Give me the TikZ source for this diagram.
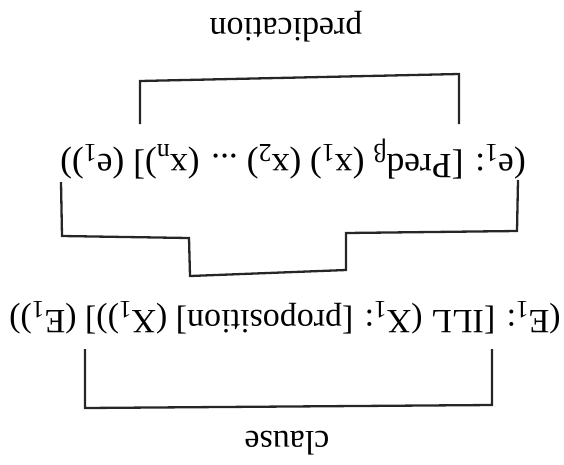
\documentclass[tikz,border=0pt]{standalone}
\usepackage{fontspec}
\setmainfont{Liberation Serif}
\newcommand{\lowsub}[1]{\raisebox{-0.28em}{\fontsize{25}{25}\selectfont #1}}
\newcommand{\lowsubm}[1]{\raisebox{-0.28em}{\fontsize{26}{26}\selectfont #1}}
\begin{document}
\begin{tikzpicture}[x=1pt,y=-1pt,
  lab/.style={rotate=180,inner sep=0pt,font=\fontsize{34}{40}\selectfont},
  labm/.style={rotate=180,inner sep=0pt,font=\fontsize{35.5}{40}\selectfont},
  brk/.style={line width=2.3pt,line join=miter,black!85}]
\useasboundingbox (0,0) rectangle (564,464);
\node[lab] (pred) at (286,27) {predication};
\node[labm] (predex) at (293,159) {(e\lowsubm{1}: [Pred\lowsubm{β} (x\lowsubm{1}) (x\lowsubm{2}) ... (x\lowsubm{n})] (e\lowsubm{1}))};
\node[lab] (clex) at (285,318) {(E\lowsub{1}: [ILL (X\lowsub{1}: [proposition] (X\lowsub{1}))] (E\lowsub{1}))};
\node[lab] (cl) at (287,443) {clause};
\coordinate (t1) at (140,124);
\coordinate (t2) at (140,81);
\coordinate (t3) at (459,74);
\coordinate (t4) at (459,124);
\draw[brk] (t1) -- (t2) -- (t3) -- (t4);
\coordinate (m1) at (61,182);
\coordinate (m2) at (62,236);
\coordinate (m3) at (189,238);
\coordinate (m4) at (190,276);
\coordinate (m5) at (346,270);
\coordinate (m6) at (346,233);
\coordinate (m7) at (517,231);
\coordinate (m8) at (518,180);
\draw[brk] (m1) -- (m2) -- (m3) -- (m4) -- (m5) -- (m6) -- (m7) -- (m8);
\coordinate (b1) at (85,349);
\coordinate (b2) at (85,408);
\coordinate (b3) at (492,405);
\coordinate (b4) at (492,349);
\draw[brk] (b1) -- (b2) -- (b3) -- (b4);
\end{tikzpicture}
\end{document}
